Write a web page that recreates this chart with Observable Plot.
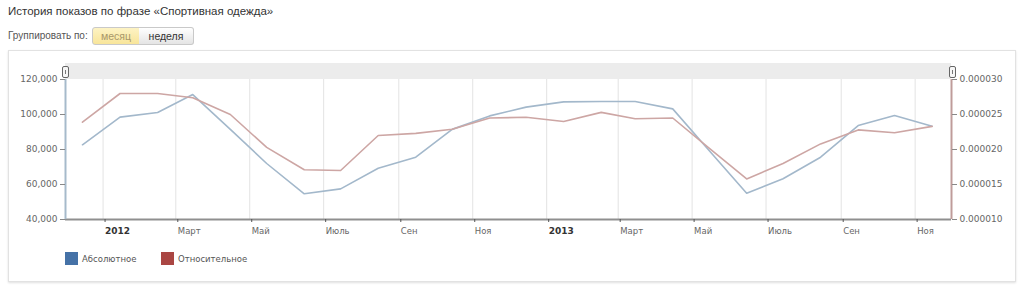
<!DOCTYPE html>
<html>
<head>
<meta charset="utf-8">
<script src="https://cdn.jsdelivr.net/npm/d3@7"></script>
<script src="https://cdn.jsdelivr.net/npm/@observablehq/plot@0.6"></script>
<style>
  html, body { margin: 0; padding: 0; background: #fff; width: 1024px; height: 288px; overflow: hidden; }
  body { position: relative; font-family: "Liberation Sans", Arial, sans-serif; }
  #title { position: absolute; left: 8px; top: 5px; font-size: 11.5px; color: #333; white-space: nowrap; }
  #group { position: absolute; left: 8px; top: 30px; font-size: 10px; color: #555; white-space: nowrap; }
  .btn { position: absolute; top: 27px; height: 16px; line-height: 16px; font-size: 10.5px; text-align: center;
         border: 1px solid #c9c9c9; box-sizing: content-box; }
  #b1 { left: 92px; width: 46px; background: linear-gradient(#fdf3c4, #f8e59a); color: #a8976a; border-radius: 3px 0 0 3px; }
  #b2 { left: 139px; width: 54px; background: linear-gradient(#ffffff, #e4e4e4); color: #333; border-left: none; border-radius: 0 3px 3px 0; }
  #panel { position: absolute; left: 8px; top: 50px; width: 1006px; height: 230px; border: 1px solid #e2e2e2;
           box-shadow: 0 1px 2px rgba(0,0,0,0.12); }
  #band { position: absolute; left: 65px; top: 63px; width: 886px; height: 16px; background: #ececec; }
  .handle { position: absolute; top: 66px; width: 5px; height: 10px; border: 1px solid #666; border-radius: 2px; background: #f6f6f6; }
  .handle::after { content: ""; position: absolute; left: 2px; top: 3px; width: 1px; height: 4px; background: #777; }
  #h1 { left: 62px; }
  #h2 { left: 949px; }
  #chart { position: absolute; left: 0; top: 55px; }
  #legend { position: absolute; left: 0; top: 252px; font-family: "DejaVu Sans", Verdana, sans-serif; font-size: 8.5px; color: #555; }
  .sw { position: absolute; top: 0; width: 13px; height: 13px; }
  .lt { position: absolute; top: 1px; white-space: nowrap; line-height: 12px; }
</style>
</head>
<body>
<div id="title">История показов по фразе «Спортивная одежда»</div>
<div id="group">Группировать по:</div>
<div class="btn" id="b1">месяц</div>
<div class="btn" id="b2">неделя</div>
<div id="panel"></div>
<div id="band"></div>
<div id="chart"></div>
<div class="handle" id="h1"></div>
<div class="handle" id="h2"></div>
<div id="legend"></div>
<script>
// ---- data ----
const months = ["2011-12-15","2012-01-15","2012-02-15","2012-03-15","2012-04-15","2012-05-15",
  "2012-06-15","2012-07-15","2012-08-15","2012-09-15","2012-10-15","2012-11-15",
  "2012-12-15","2013-01-15","2013-02-15","2013-03-15","2013-04-15","2013-05-15",
  "2013-06-15","2013-07-15","2013-08-15","2013-09-15","2013-10-15","2013-11-15"];
const absolute = [82700, 98500, 101100, 111400, 91500, 72000, 54700, 57500, 69300, 75600, 91500, 99200,
  104200, 107200, 107400, 107400, 103200, 79400, 55000, 63300, 75600, 93700, 99400, 93300];
const relative = [0.0000239, 0.0000280, 0.0000280, 0.0000274, 0.0000250, 0.0000203, 0.0000171, 0.0000170,
  0.0000220, 0.0000223, 0.0000229, 0.0000245, 0.0000246, 0.0000240, 0.0000253, 0.0000244, 0.0000245,
  0.0000202, 0.0000158, 0.0000180, 0.0000208, 0.0000228, 0.0000224, 0.0000233];
const leftTicks = [40000, 60000, 80000, 100000, 120000];
const rightTicks = [0.000010, 0.000015, 0.000020, 0.000025, 0.000030];
const rightTickLabels = ["0.000010", "0.000015", "0.000020", "0.000025", "0.000030"];
const monthTickDates = ["2012-03-01","2012-05-01","2012-07-01","2012-09-01","2012-11-01",
  "2013-03-01","2013-05-01","2013-07-01","2013-09-01","2013-11-01"];
const monthTickLabels = ["Март","Май","Июль","Сен","Ноя","Март","Май","Июль","Сен","Ноя"];
const yearTickDates = ["2012-01-01","2013-01-01"];
const yearTickLabels = ["2012","2013"];
const xDomain = ["2011-12-01","2013-12-01"];
const seriesNames = ["Абсолютное", "Относительное"];
const seriesColors = ["#4572A7", "#AA4643"];
const lineColors = ["#a3b8cb", "#cda6a4"];

// ---- build ----
const leftDomain = [40000, 120000];
const rightDomain = [0.000010, 0.000030];
const relToLeft = d3.scaleLinear().domain(rightDomain).range(leftDomain);
const data = months.map((m, i) => ({date: new Date(m), abs: absolute[i], rel: relative[i]}));
const mDates = monthTickDates.map(d => new Date(d));
const yDates = yearTickDates.map(d => new Date(d));
const allTicks = [...yDates, ...mDates];
const xd = xDomain.map(d => new Date(d));

const chart = Plot.plot({
  width: 1024,
  height: 190,
  marginLeft: 65,
  marginRight: 73,
  marginTop: 24,
  marginBottom: 26,
  x: {type: "utc", domain: xd},
  y: {domain: leftDomain},
  style: {fontFamily: "'DejaVu Sans', Verdana, sans-serif", fontSize: "9px", color: "#666", background: "transparent", overflow: "visible"},
  marks: [
    Plot.gridX(allTicks, {stroke: "#e3e3e3", strokeOpacity: 1}),
    Plot.line(data, {x: "date", y: "abs", stroke: lineColors[0], strokeWidth: 1.6}),
    Plot.line(data, {x: "date", y: d => relToLeft(d.rel), stroke: lineColors[1], strokeWidth: 1.6}),
    Plot.ruleY([leftDomain[0]], {stroke: "#8f8f8f", strokeWidth: 2}),
    Plot.ruleX([xd[0]], {stroke: "#a6bacb", strokeWidth: 2}),
    Plot.ruleX([xd[1]], {stroke: "#bf9c9a", strokeWidth: 2}),
    Plot.axisY({ticks: leftTicks, tickFormat: d3.format(","), tickSize: 5, tickPadding: 3, label: null, stroke: "#888"}),
    Plot.axisY({anchor: "right", ticks: rightTicks.map(v => relToLeft(v)), tickFormat: (d, i) => rightTickLabels[i],
      tickSize: 5, tickPadding: 3, label: null, stroke: "#888"}),
    Plot.axisX({ticks: mDates, tickFormat: (d, i) => monthTickLabels[i], tickSize: 3, tickPadding: 5,
      textAnchor: "start", dx: 2, fontSize: 8.5, label: null, stroke: "#555"}),
    Plot.axisX({ticks: yDates, tickFormat: (d, i) => yearTickLabels[i], tickSize: 3, tickPadding: 5,
      textAnchor: "start", dx: 2, fontWeight: "bold", fill: "#333", label: null, stroke: "#555"})
  ]
});
document.getElementById("chart").appendChild(chart);

// legend
const legend = document.getElementById("legend");
const legendX = [65, 161];
seriesNames.forEach((name, i) => {
  const sw = document.createElement("div");
  sw.className = "sw";
  sw.style.left = legendX[i] + "px";
  sw.style.background = seriesColors[i];
  legend.appendChild(sw);
  const t = document.createElement("div");
  t.className = "lt";
  t.style.left = (legendX[i] + 17) + "px";
  t.textContent = name;
  legend.appendChild(t);
});
</script>
</body>
</html>
